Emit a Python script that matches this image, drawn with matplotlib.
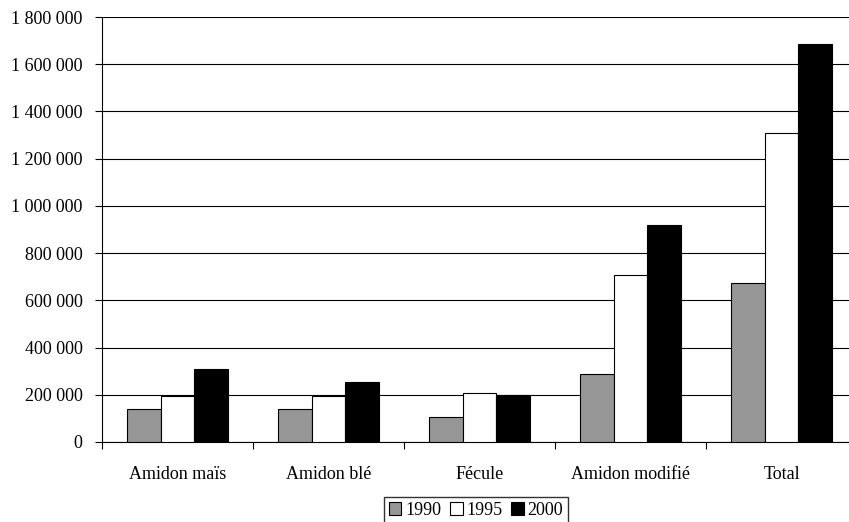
import numpy as np
import matplotlib
matplotlib.use("Agg")
import matplotlib.pyplot as plt
from matplotlib.patches import Patch

categories = ["Amidon maïs", "Amidon blé", "Fécule", "Amidon modifié", "Total"]
years = ["1990", "1995", "2000"]
v1990 = [139000, 140000, 106000, 290000, 675000]
v1995 = [194000, 194000, 209000, 707000, 1308000]
v2000 = [311000, 256000, 197000, 921000, 1686000]
yticks = [0, 200000, 400000, 600000, 800000, 1000000, 1200000, 1400000, 1600000, 1800000]

plt.rcParams['font.family'] = ['Liberation Serif', 'DejaVu Serif']
plt.rcParams['font.size'] = 13

W, H = 849, 522
fig = plt.figure(figsize=(W / 100, H / 100), dpi=100)
# plot area in pixels: left 102, right 857 (cut by the image edge), top 17, bottom 442
ax = fig.add_axes([102 / W, (H - 442) / H, (857 - 102) / W, (442 - 17) / H])

x = np.arange(len(categories))
bw = 0.223
colors = ["#969696", "#ffffff", "#000000"]
for i, (vals, c) in enumerate(zip([v1990, v1995, v2000], colors)):
    ax.bar(x + (i - 1) * bw, vals, bw, color=c, edgecolor="black", linewidth=0.8, zorder=3)

ax.set_xlim(-0.5, len(categories) - 0.5)
ax.set_ylim(0, 1800000)
ax.set_yticks(yticks)
ax.set_yticklabels([format(v, ",").replace(",", " ") for v in yticks])
ax.yaxis.grid(True, color="black", linewidth=0.8, zorder=0)

ax.set_xticks(np.arange(len(categories) + 1) - 0.5)
ax.set_xticklabels([])
ax.set_xticks(x, minor=True)
ax.set_xticklabels(categories, minor=True)
ax.tick_params(axis="x", which="major", length=5, width=0.8, direction="out")
ax.tick_params(axis="x", which="minor", length=0, pad=17)
ax.tick_params(axis="y", length=5, width=0.8, pad=9)

for s in ["top", "right"]:
    ax.spines[s].set_visible(False)
ax.spines["left"].set_linewidth(0.8)
ax.spines["bottom"].set_linewidth(0.8)

handles = [Patch(facecolor=c, edgecolor="black", linewidth=0.8) for c in colors]
fig.legend(handles, years, loc="upper center", bbox_to_anchor=(476 / W, 25 / H),
           ncol=3, frameon=True, fancybox=False, edgecolor="black",
           handlelength=0.7, handleheight=0.7, handletextpad=0.2, columnspacing=0.5,
           borderpad=0.25, borderaxespad=0, fontsize=13)

fig.savefig("out.png", dpi=100)
